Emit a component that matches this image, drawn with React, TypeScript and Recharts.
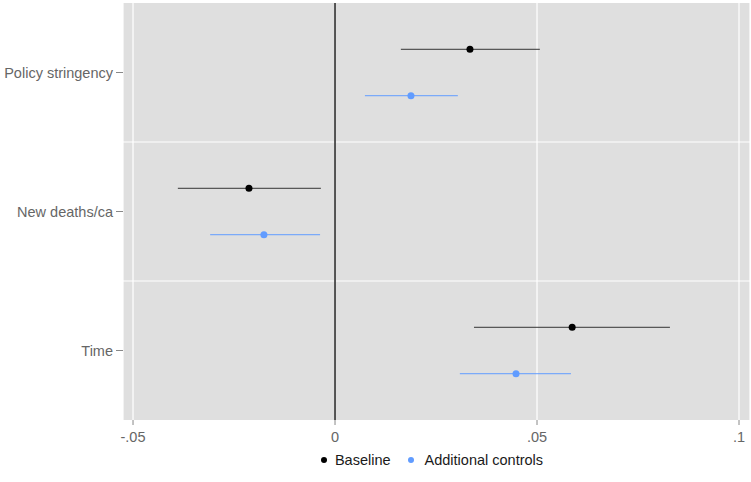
import React from "react";
import {
  ScatterChart,
  Scatter,
  XAxis,
  YAxis,
  CartesianGrid,
  ErrorBar,
  ReferenceLine,
  Legend,
} from "recharts";

const categories = ["Policy stringency", "New deaths/ca", "Time"];
const categoryPos = [2.5, 1.5, 0.5];

const baselineEst = [0.0334, -0.0213, 0.0587];
const baselineLo = [0.0163, -0.0389, 0.0344];
const baselineHi = [0.0507, -0.0035, 0.0829];

const addEst = [0.0188, -0.0176, 0.0448];
const addLo = [0.0074, -0.0309, 0.0309];
const addHi = [0.0304, -0.0037, 0.0584];

const xTicks = [-0.05, 0, 0.05, 0.1];
const xTickLabels = ["-.05", "0", ".05", ".1"];

const FONT = "'Liberation Sans', Arial, Helvetica, sans-serif";
const BLACK = "#000000";
const BLUE = "#619CFF";

const build = (est: number[], lo: number[], hi: number[], off: number) =>
  est.map((v, i) => ({
    x: v,
    y: categoryPos[i] + off,
    err: [v - lo[i], hi[i] - v],
  }));

const baselineData = build(baselineEst, baselineLo, baselineHi, 0.167);
const addData = build(addEst, addLo, addHi, -0.167);

const dot = (color: string) => (p: any) =>
  <circle cx={p.cx} cy={p.cy} r={3.5} fill={color} />;

const LegendContent = () => (
  <div
    style={{
      display: "flex",
      justifyContent: "center",
      alignItems: "center",
      fontFamily: FONT,
      fontSize: 14.5,
      color: "#1a1a1a",
      paddingLeft: 112,
      paddingTop: 2,
    }}
  >
    <span style={{ display: "inline-flex", alignItems: "center", marginRight: 15 }}>
      <svg width={10} height={10} style={{ marginRight: 6 }}>
        <circle cx={5} cy={5} r={3} fill={BLACK} />
      </svg>
      Baseline
    </span>
    <span style={{ display: "inline-flex", alignItems: "center" }}>
      <svg width={10} height={10} style={{ marginRight: 9 }}>
        <circle cx={5} cy={5} r={3} fill={BLUE} />
      </svg>
      Additional controls
    </span>
  </div>
);

export default function App() {
  return (
    <div style={{ position: "absolute", left: 0, top: 0, background: "#fff" }}>
      <ScatterChart
        width={751}
        height={482}
        margin={{ top: 3, right: 1, left: 0, bottom: 0 }}
      >
        <CartesianGrid
          fill="#DFDFDF"
          stroke="#ffffff"
          strokeWidth={1.2}
          horizontal={false}
          vertical={true}
        />
        <XAxis
          type="number"
          dataKey="x"
          domain={[-0.05248, 0.10272]}
          allowDataOverflow
          ticks={xTicks}
          tickFormatter={(v: number) => xTickLabels[xTicks.indexOf(v)] ?? String(v)}
          axisLine={false}
          tickLine={{ stroke: "#888" }}
          tickSize={5}
          tickMargin={7}
          height={30}
          tick={{ fill: "#666", fontSize: 14.5, fontFamily: FONT }}
        />
        <YAxis
          type="number"
          dataKey="y"
          domain={[0, 3]}
          allowDataOverflow
          ticks={categoryPos}
          tickFormatter={(v: number) => categories[categoryPos.indexOf(v)] ?? ""}
          axisLine={false}
          tickLine={{ stroke: "#888" }}
          tickSize={7}
          tickMargin={3}
          width={123}
          tick={{ fill: "#666", fontSize: 14.5, fontFamily: FONT }}
        />
        <ReferenceLine y={1} stroke="#ffffff" strokeWidth={1.2} />
        <ReferenceLine y={2} stroke="#ffffff" strokeWidth={1.2} />
        <ReferenceLine x={0} stroke="#000000" strokeWidth={1.3} />
        <Legend
          verticalAlign="bottom"
          height={32}
          content={<LegendContent />}
        />
        <Scatter
          name="Baseline"
          data={baselineData}
          isAnimationActive={false}
          shape={dot(BLACK)}
        >
          <ErrorBar dataKey="err" direction="x" width={0} stroke="#333" strokeWidth={1} />
        </Scatter>
        <Scatter
          name="Additional controls"
          data={addData}
          isAnimationActive={false}
          shape={dot(BLUE)}
        >
          <ErrorBar dataKey="err" direction="x" width={0} stroke={BLUE} strokeWidth={1} />
        </Scatter>
      </ScatterChart>
    </div>
  );
}
